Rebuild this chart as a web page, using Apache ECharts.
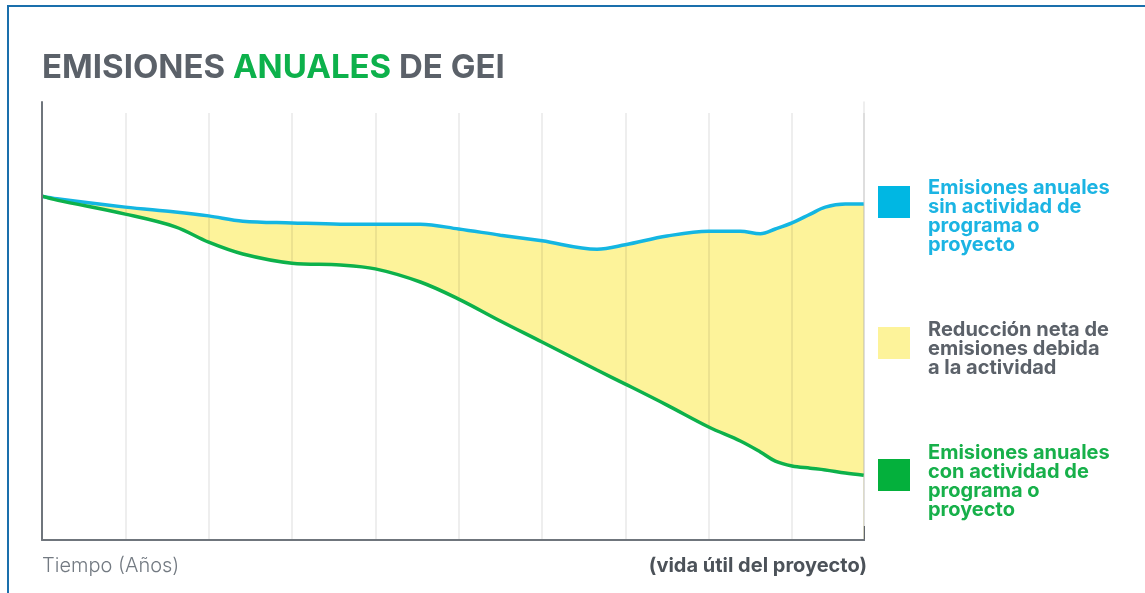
<!DOCTYPE html>
<html>
<head>
<meta charset="utf-8">
<script src="https://cdn.jsdelivr.net/npm/echarts@6/dist/echarts.min.js"></script>
<style>
html,body{margin:0;padding:0;background:#fff;}
#chart{width:1145px;height:593px;}
</style>
</head>
<body>
<div id="chart"></div>
<script>
// Time positions (years, gridline = 1 unit)
var years = [0, 0.18, 1.0, 1.6, 2.0, 2.41, 3.0, 3.58, 4.0, 4.54, 5.0, 5.5, 6.0, 6.66, 7.0, 7.5, 8.0, 8.38, 8.62, 8.8, 9.0, 9.22, 9.4, 9.64, 9.86];
// Emissions without programme/project (baseline)
var sinActividad = [78.5, 77.9, 76.0, 74.9, 74.0, 72.8, 72.4, 72.1, 72.1, 72.1, 71.0, 69.6, 68.3, 66.4, 67.4, 69.4, 70.5, 70.5, 69.9, 71.0, 72.4, 74.4, 76.0, 76.7, 76.7];
// Emissions with programme/project
var conActividad = [78.5, 77.6, 74.4, 71.5, 68.0, 65.3, 63.2, 62.8, 61.9, 58.9, 55.0, 50.0, 45.2, 38.8, 35.6, 30.8, 25.8, 22.6, 20.1, 18.0, 16.9, 16.4, 16.0, 15.3, 14.8];

var xMax = 9.864;
var names = {
  sin: 'Emisiones anuales\nsin actividad de\nprograma o\nproyecto',
  red: 'Reducción neta de\nemisiones debida\na la actividad',
  con: 'Emisiones anuales\ncon actividad de\nprograma o\nproyecto'
};
var C = { blue: '#14b6e2', green: '#0db14b', yellow: '#fdf39a', gray: '#5b6169', axis: '#6f757c' };

var blueData = years.map(function (x, i) { return [x, sinActividad[i]]; });
var greenData = years.map(function (x, i) { return [x, conActividad[i]]; });

var chart = echarts.init(document.getElementById('chart'), null, { renderer: 'canvas' });
var FONT = 'Inter, "Open Sans", sans-serif';
var SM = 0.35;

chart.setOption({
  animation: false,
  backgroundColor: '#ffffff',
  grid: [
    { left: 42, right: 281, top: 102, bottom: 53 },
    { left: 42, right: 281, top: 113, bottom: 53 }
  ],
  xAxis: [
    { type: 'value', gridIndex: 0, min: 0, max: xMax, interval: 1, z: 6,
      axisLine: { show: true, lineStyle: { color: C.axis, width: 2 } },
      axisTick: { show: false }, axisLabel: { show: false }, splitLine: { show: false } },
    { type: 'value', gridIndex: 1, min: 0, max: xMax, interval: 1, z: 3,
      axisLine: { show: false }, axisTick: { show: false }, axisLabel: { show: false },
      splitLine: { show: true, lineStyle: { color: 'rgba(0,0,0,0.09)', width: 1.5 } } }
  ],
  yAxis: [
    { type: 'value', gridIndex: 0, min: 0, max: 100, z: 6,
      axisLine: { show: true, lineStyle: { color: C.axis, width: 2 } },
      axisTick: { show: false }, axisLabel: { show: false }, splitLine: { show: false } },
    { type: 'value', gridIndex: 0, position: 'right', min: 0, max: 100, z: 3,
      axisLine: { show: true, lineStyle: { color: 'rgba(0,0,0,0.09)', width: 1.5 } },
      axisTick: { show: false }, axisLabel: { show: false }, splitLine: { show: false } },
    { type: 'value', gridIndex: 1, min: 0, max: 100, show: false }
  ],
  series: [
    // yellow: area under the baseline
    { name: names.red, type: 'line', xAxisIndex: 0, yAxisIndex: 0, data: blueData,
      smooth: SM, showSymbol: false, z: 1, silent: true,
      lineStyle: { width: 0, opacity: 0 },
      areaStyle: { color: C.yellow, opacity: 1, origin: 'start' } },
    // white: area under the project emissions (leaves only the reduction in yellow)
    { name: 'base', type: 'line', xAxisIndex: 0, yAxisIndex: 0, data: greenData,
      smooth: SM, showSymbol: false, z: 2, silent: true,
      lineStyle: { width: 0, opacity: 0 },
      areaStyle: { color: '#ffffff', opacity: 1, origin: 'start' } },
    { name: names.sin, type: 'line', xAxisIndex: 0, yAxisIndex: 0, data: blueData,
      smooth: SM, showSymbol: false, z: 4,
      lineStyle: { color: C.blue, width: 3.5 } },
    { name: names.con, type: 'line', xAxisIndex: 0, yAxisIndex: 0, data: greenData,
      smooth: SM, showSymbol: false, z: 4,
      lineStyle: { color: C.green, width: 3.5 } }
  ],
  graphic: [
    { type: 'rect', shape: { x: 8, y: 6, width: 1300, height: 800 },
      style: { fill: 'none', stroke: '#1a6fac', lineWidth: 2 }, silent: true },
    { type: 'line', shape: { x1: 864, y1: 526, x2: 864, y2: 541 },
      style: { stroke: C.axis, lineWidth: 2 }, silent: true },
    { type: 'text', left: 42, top: 52,
      style: { text: '{g|EMISIONES }{v|ANUALES}{g| DE GEI}',
        rich: {
          g: { fill: C.gray, font: 'bold 33px ' + FONT },
          v: { fill: C.green, font: 'bold 33px ' + FONT }
        } } },
    // legend
    { type: 'rect', shape: { x: 878, y: 186, width: 32, height: 32 }, style: { fill: '#00b7e3' } },
    { type: 'rect', shape: { x: 878, y: 327, width: 32, height: 32 }, style: { fill: C.yellow } },
    { type: 'rect', shape: { x: 878, y: 459, width: 32, height: 32 }, style: { fill: '#04b03c' } },
    { type: 'text', x: 928, y: 178,
      style: { text: names.sin, fill: '#1bb4e3', font: 'bold 20px ' + FONT, lineHeight: 19, verticalAlign: 'top' } },
    { type: 'text', x: 928, y: 320,
      style: { text: names.red, fill: C.gray, font: 'bold 20px ' + FONT, lineHeight: 19, verticalAlign: 'top' } },
    { type: 'text', x: 928, y: 443,
      style: { text: names.con, fill: '#17b04a', font: 'bold 20px ' + FONT, lineHeight: 19, verticalAlign: 'top' } },
    // axis captions
    { type: 'text', x: 42, y: 566,
      style: { text: 'Tiempo (Años)', fill: '#737a82', font: '300 20px ' + FONT, verticalAlign: 'middle' } },
    { type: 'text', x: 867, y: 566,
      style: { text: '(vida útil del proyecto)', fill: '#4c5259', font: 'bold 20px ' + FONT, verticalAlign: 'middle', align: 'right' } }
  ]
});
</script>
</body>
</html>
